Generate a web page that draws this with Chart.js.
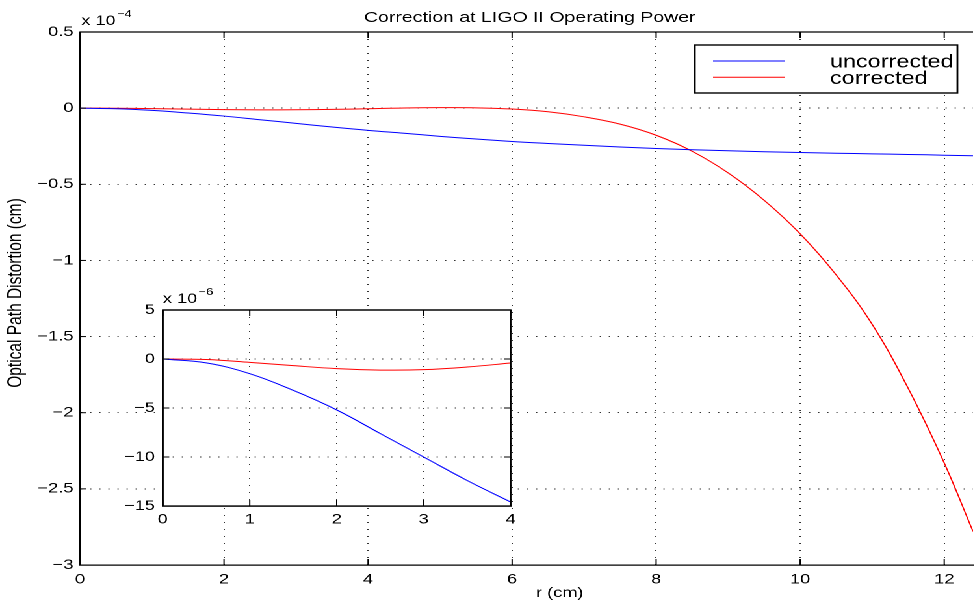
<!DOCTYPE html>
<html>
<head>
<meta charset="utf-8">
<script src="https://cdn.jsdelivr.net/npm/chart.js@4.4.0/dist/chart.umd.min.js"></script>
<style>
  html, body { margin: 0; padding: 0; background: #fff; overflow: hidden; width: 974px; height: 610px; }
  /* the figure is laid out narrow and widened, like the old printed plot */
  #fig { position: relative; width: 749px; height: 610px; transform: scaleX(1.3); transform-origin: 0 0; }
  #main { position: absolute; left: 0; top: 0; }
  #inset { position: absolute; left: 70px; top: 280px; }
</style>
</head>
<body>
<div id="fig">
  <canvas id="main" width="749" height="610"></canvas>
  <canvas id="inset" width="335" height="250"></canvas>
</div>
<script>
const FONT = '"Liberation Sans", Arial, Helvetica, sans-serif';
Chart.defaults.font.family = FONT;
Chart.defaults.color = '#000';

// radius in cm, distortion in units of 1e-4 cm
const radius = [0, 0.5, 1, 1.5, 2, 2.5, 3, 3.5, 4, 4.5, 5, 5.5, 6, 6.5, 7, 7.5, 8, 8.5, 9, 9.5, 10, 10.5, 11, 11.5, 12, 12.4];
const uncorrected = [0, -0.004, -0.015, -0.032, -0.052, -0.076, -0.100, -0.124, -0.146, -0.165, -0.185, -0.203, -0.219,
  -0.232, -0.244, -0.255, -0.265, -0.273, -0.280, -0.286, -0.291, -0.296, -0.300, -0.304, -0.309, -0.313];
const corrected = [0, -0.0005, -0.0034, -0.0068, -0.0098, -0.0113, -0.0109, -0.0082, -0.0041, 0.001, 0.003, 0.002, -0.006,
  -0.024, -0.057, -0.105, -0.178, -0.283, -0.425, -0.605, -0.825, -1.095, -1.42, -1.84, -2.33, -2.78];

// zoom on the centre, units of 1e-6 cm
const insetRadius = [0, 0.5, 1, 1.5, 2, 2.5, 3, 3.5, 4];
const insetUncorrected = [0, -0.4, -1.5, -3.2, -5.2, -7.6, -10.0, -12.4, -14.6];
const insetCorrected = [0, -0.05, -0.34, -0.68, -0.98, -1.13, -1.09, -0.82, -0.41];

const mainXTicks = [0, 2, 4, 6, 8, 10, 12];
const mainYTicks = [0.5, 0, -0.5, -1, -1.5, -2, -2.5, -3];
const insetXTicks = [0, 1, 2, 3, 4];
const insetYTicks = [5, 0, -5, -10, -15];

const seriesNames = ['uncorrected', 'corrected'];
const seriesColors = ['#0000ff', '#ff0000'];

const fmt = v => (v < 0 ? '\u2212' + Math.abs(v) : String(v));
const pts = (xs, ys) => xs.map((x, i) => ({ x, y: ys[i] }));

function line(ctx, x1, y1, x2, y2) {
  ctx.beginPath(); ctx.moveTo(x1, y1); ctx.lineTo(x2, y2); ctx.stroke();
}

function axis(list, opts) {
  return Object.assign({
    type: 'linear',
    afterBuildTicks: s => { s.ticks = list.map(v => ({ value: v })); },
    grid: { color: 'rgba(0,0,0,0.8)', lineWidth: 1, drawTicks: false },
    border: { color: '#000', width: 1.3, dash: [1, 6] },
    ticks: { font: { size: 14 }, color: '#000', callback: fmt }
  }, opts);
}

function noPad(s) { s.paddingLeft = s.paddingRight = s.paddingTop = s.paddingBottom = 0; }

// MATLAB-like inward ticks and frame
const frame = {
  id: 'frame',
  afterDraw(chart, args, o) {
    const { ctx, chartArea: a, scales: { x, y } } = chart;
    ctx.save();
    ctx.strokeStyle = '#000';
    ctx.lineWidth = 1;
    x.ticks.forEach(t => {
      const px = x.getPixelForValue(t.value);
      line(ctx, px, a.bottom, px, a.bottom - 6);
      line(ctx, px, a.top, px, a.top + 6);
    });
    y.ticks.forEach(t => {
      const py = y.getPixelForValue(t.value);
      line(ctx, a.left, py, a.left + 5, py);
      if (o.box) line(ctx, a.right, py, a.right - 5, py);
    });
    ctx.lineWidth = 1.3;
    line(ctx, a.left, a.top, a.right, a.top);
    if (o.box) ctx.strokeRect(a.left, a.top, a.right - a.left, a.bottom - a.top);
    // exponent label above the y axis
    ctx.fillStyle = '#000';
    ctx.textBaseline = 'alphabetic';
    ctx.textAlign = 'left';
    ctx.font = '14px ' + FONT;
    const base = 'x 10';
    ctx.fillText(base, a.left + o.expDx, a.top - o.expDy);
    const w = ctx.measureText(base).width;
    ctx.font = '10px ' + FONT;
    ctx.fillText(o.exp, a.left + o.expDx + w + 1, a.top - o.expDy - 8);
    ctx.restore();
  }
};

const whiteBox = {
  id: 'whiteBox',
  beforeDraw(chart) {
    const { ctx, chartArea: a } = chart;
    ctx.save();
    ctx.fillStyle = '#fff';
    ctx.fillRect(a.left, a.top, a.right - a.left, a.bottom - a.top);
    ctx.restore();
  }
};

const labels = {
  id: 'labels',
  afterDraw(chart) {
    const { ctx, chartArea: a } = chart;
    ctx.save();
    ctx.fillStyle = '#000';
    ctx.textBaseline = 'alphabetic';
    ctx.textAlign = 'center';
    ctx.font = '15px ' + FONT;
    ctx.fillText('Correction at LIGO II Operating Power', a.left + 346, 22);
    ctx.font = '14px ' + FONT;
    ctx.fillText('r (cm)', a.left + 369, 597);
    ctx.translate(16.5, 293);
    ctx.rotate(-Math.PI / 2);
    ctx.font = '15.5px ' + FONT;
    ctx.fillText('Optical Path Distortion (cm)', 0, 0);
    ctx.restore();

    // legend box
    ctx.save();
    const bx = a.right - 214, by = a.top + 13, bw = 202, bh = 48;
    ctx.fillStyle = '#fff';
    ctx.fillRect(bx, by, bw, bh);
    ctx.strokeStyle = '#000';
    ctx.lineWidth = 1.4;
    ctx.strokeRect(bx, by, bw, bh);
    ctx.font = '18px ' + FONT;
    ctx.textAlign = 'left';
    ctx.fillStyle = '#000';
    chart.data.datasets.forEach((ds, i) => {
      const ly = by + 16 + i * 16.3;
      ctx.strokeStyle = ds.borderColor;
      ctx.lineWidth = 1;
      line(ctx, bx + 14, ly, bx + 69, ly);
      ctx.fillText(ds.label, bx + 104, ly + 6.5);
    });
    ctx.restore();
  }
};

const lineStyle = i => ({
  label: seriesNames[i], borderColor: seriesColors[i], borderWidth: 1,
  pointRadius: 0, tension: 0.4, fill: false
});

new Chart(document.getElementById('main'), {
  type: 'line',
  data: {
    datasets: [
      Object.assign({ data: pts(radius, uncorrected) }, lineStyle(0)),
      Object.assign({ data: pts(radius, corrected) }, lineStyle(1))
    ]
  },
  options: {
    responsive: false, animation: false, devicePixelRatio: 2,
    layout: { padding: { top: 32, left: 0, right: 0, bottom: 0 } },
    plugins: {
      legend: { display: false }, tooltip: { enabled: false },
      frame: { box: false, exp: '\u22124', expDx: 1, expDy: 7 }
    },
    scales: {
      x: axis(mainXTicks, {
        min: 0, max: 12.4,
        afterFit: s => { s.height = 45; noPad(s); }
      }),
      y: axis(mainYTicks, {
        min: -3, max: 0.5,
        afterFit: s => { s.width = 61.5; noPad(s); }
      })
    }
  },
  plugins: [frame, labels]
});
Chart.getChart('main').options.scales.x.ticks.padding = 6;
Chart.getChart('main').options.scales.y.ticks.padding = 5;
Chart.getChart('main').update();

new Chart(document.getElementById('inset'), {
  type: 'line',
  data: {
    datasets: [
      Object.assign({ data: pts(insetRadius, insetUncorrected) }, lineStyle(0)),
      Object.assign({ data: pts(insetRadius, insetCorrected) }, lineStyle(1))
    ]
  },
  options: {
    responsive: false, animation: false, devicePixelRatio: 2,
    layout: { padding: { top: 30, left: 0, right: 12.2, bottom: 0 } },
    plugins: {
      legend: { display: false }, tooltip: { enabled: false },
      frame: { box: true, exp: '\u22126', expDx: 0, expDy: 7 }
    },
    scales: {
      x: axis(insetXTicks, {
        min: 0, max: 4,
        afterFit: s => { s.height = 24; noPad(s); }
      }),
      y: axis(insetYTicks, {
        min: -15, max: 5,
        afterFit: s => { s.width = 55.2; noPad(s); }
      })
    }
  },
  plugins: [whiteBox, frame]
});
Chart.getChart('inset').options.scales.x.ticks.padding = 5;
Chart.getChart('inset').options.scales.y.ticks.padding = 6;
Chart.getChart('inset').update();
</script>
</body>
</html>
